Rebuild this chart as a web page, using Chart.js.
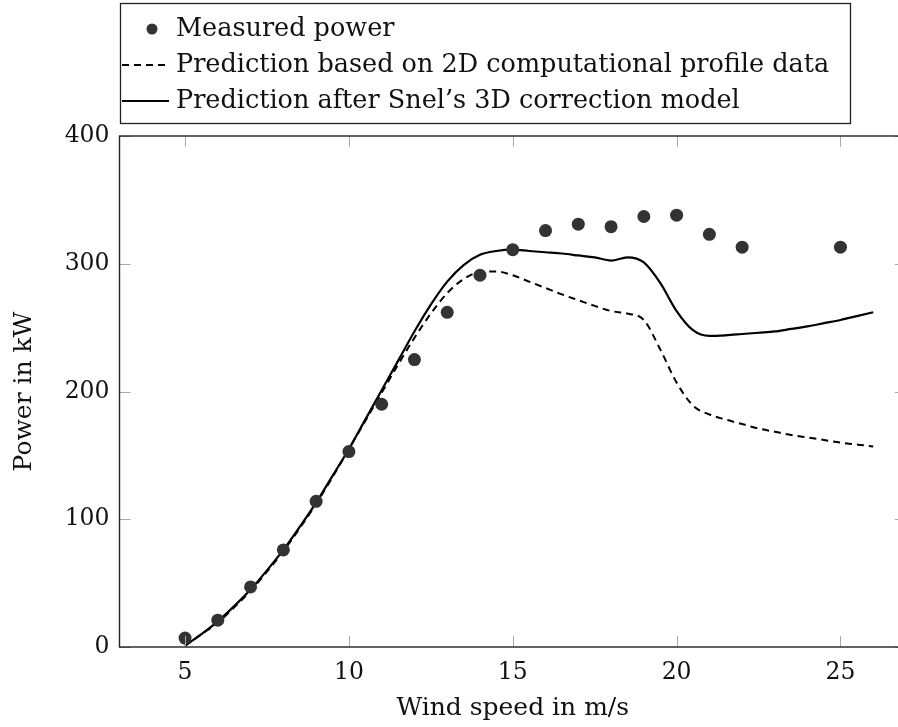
<!DOCTYPE html>
<html>
<head>
<meta charset="utf-8">
<title>Power curve</title>
<script src="https://cdn.jsdelivr.net/npm/chart.js@4/dist/chart.umd.min.js"></script>
<style>
  html, body { margin: 0; padding: 0; background: #fff; overflow: hidden; }
  #wrap { width: 920px; height: 727px; }
</style>
</head>
<body>
<div id="wrap"><canvas id="powerChart"></canvas></div>
<script>
// Measured power per wind speed bin
const measuredSpeed = [5, 6, 7, 8, 9, 10, 11, 12, 13, 14, 15, 16, 17, 18, 19, 20, 21, 22, 25];
const measuredPower = [7, 21, 47, 76, 114, 153, 190, 225, 262, 291, 311, 326, 331, 329, 337, 338, 323, 313, 313];

// Predicted curves, sampled every 0.5 m/s
const predSpeed = [5, 5.5, 6, 6.5, 7, 7.5, 8, 8.5, 9, 9.5, 10, 10.5, 11, 11.5, 12, 12.5, 13, 13.5, 14, 14.5,
                   15, 15.5, 16, 16.5, 17, 17.5, 18, 18.5, 19, 19.5, 20, 20.5, 21, 21.5, 22, 22.5, 23, 23.5,
                   24, 24.5, 25, 25.5, 26];
const pred2D = [1, 10, 19, 31, 44, 59, 75, 93, 112, 133, 155, 177, 199, 221, 242, 261, 277, 288, 293.5, 294,
                291, 286, 281, 276, 271.5, 267, 263, 261, 256, 233, 207, 189, 182, 178, 174.5, 171, 168.5, 166,
                164, 162, 160, 158.5, 157];
const pred3D = [1, 10, 20, 32, 45, 60, 76, 94, 113, 134, 155, 178, 201, 224, 247, 268, 286, 299, 307, 310,
                311, 310, 309, 308, 306.5, 305, 302.5, 305, 301, 285, 263, 248, 243.5, 244, 245, 246, 247, 249,
                251, 253.5, 256, 259, 262];

const xTicks = [5, 10, 15, 20, 25];
const yTicks = [0, 100, 200, 300, 400];

const FONT = "'DejaVu Serif', 'Liberation Serif', serif";

function points(xs, ys) {
    return xs.map((x, i) => ({ x: x, y: ys[i] }));
}

// Frame around the plot with inward ticks on all four sides
const framePlugin = {
    id: 'frame',
    afterDatasetsDraw(chart) {
        const { ctx, chartArea: a, scales } = chart;
        ctx.save();
        ctx.strokeStyle = '#a8a8a8';
        ctx.lineWidth = 1;
        ctx.beginPath();
        xTicks.forEach(v => {
            const px = Math.round(scales.x.getPixelForValue(v)) + 0.5;
            ctx.moveTo(px, a.bottom); ctx.lineTo(px, a.bottom - 11);
            ctx.moveTo(px, a.top); ctx.lineTo(px, a.top + 11);
        });
        yTicks.forEach(v => {
            const py = Math.round(scales.y.getPixelForValue(v)) + 0.5;
            ctx.moveTo(a.left, py); ctx.lineTo(a.left + 11, py);
            ctx.moveTo(a.right, py); ctx.lineTo(a.right - 11, py);
        });
        ctx.stroke();
        ctx.strokeStyle = '#222';
        ctx.lineWidth = 1.4;
        ctx.strokeRect(a.left, a.top, a.right - a.left, a.bottom - a.top);
        ctx.restore();
    }
};

// Boxed legend in the upper left
const legendPlugin = {
    id: 'boxLegend',
    afterDraw(chart) {
        const ctx = chart.ctx;
        const rows = [29, 65, 101];
        ctx.save();
        ctx.fillStyle = '#fff';
        ctx.fillRect(120, 3, 730, 120);
        ctx.strokeStyle = '#222';
        ctx.lineWidth = 1.3;
        ctx.strokeRect(120.5, 3.5, 730, 120);
        chart.data.datasets.forEach((ds, i) => {
            const y = rows[i];
            if (ds.showLine === false) {
                ctx.fillStyle = ds.pointBackgroundColor;
                ctx.beginPath();
                ctx.arc(152, y, 5.5, 0, Math.PI * 2);
                ctx.fill();
            } else {
                ctx.strokeStyle = ds.borderColor;
                ctx.lineWidth = ds.borderWidth;
                ctx.setLineDash(ds.borderDash || []);
                ctx.beginPath();
                ctx.moveTo(122, y);
                ctx.lineTo(169, y);
                ctx.stroke();
                ctx.setLineDash([]);
            }
            ctx.fillStyle = '#111';
            ctx.font = '25.5px ' + FONT;
            ctx.textBaseline = 'middle';
            ctx.textAlign = 'left';
            ctx.fillText(ds.label, 176, y);
        });
        ctx.restore();
    }
};

new Chart(document.getElementById('powerChart'), {
    type: 'line',
    data: {
        datasets: [
            {
                label: 'Measured power',
                data: points(measuredSpeed, measuredPower),
                showLine: false,
                pointRadius: 6.5,
                pointBackgroundColor: '#333',
                pointBorderWidth: 0,
                borderColor: '#333'
            },
            {
                label: 'Prediction based on 2D computational profile data',
                data: points(predSpeed, pred2D),
                borderColor: '#000',
                borderWidth: 2,
                borderDash: [7, 5],
                pointRadius: 0,
                cubicInterpolationMode: 'monotone'
            },
            {
                label: 'Prediction after Snel\u2019s 3D correction model',
                data: points(predSpeed, pred3D),
                borderColor: '#000',
                borderWidth: 2.2,
                pointRadius: 0,
                cubicInterpolationMode: 'monotone'
            }
        ]
    },
    options: {
        responsive: true,
        maintainAspectRatio: false,
        animation: false,
        layout: { padding: { top: 136, right: 14, left: 0, bottom: 0 } },
        plugins: {
            legend: { display: false },
            tooltip: { enabled: false }
        },
        scales: {
            x: {
                type: 'linear',
                min: 3,
                max: 27,
                afterBuildTicks: s => { s.ticks = xTicks.map(v => ({ value: v })); },
                afterFit: s => { s.height = 80; },
                grid: { display: false, drawTicks: false },
                border: { display: false },
                ticks: { color: '#111', font: { family: FONT, size: 23.5 }, padding: 12 },
                title: {
                    display: true,
                    text: 'Wind speed in m/s',
                    color: '#111',
                    font: { family: FONT, size: 25 },
                    padding: { top: 0, bottom: 4 }
                }
            },
            y: {
                type: 'linear',
                min: 0,
                max: 400,
                afterBuildTicks: s => { s.ticks = yTicks.map(v => ({ value: v })); },
                afterFit: s => { s.width = 119.5; },
                grid: { display: false, drawTicks: false },
                border: { display: false },
                ticks: { color: '#111', font: { family: FONT, size: 23.5 }, padding: 10 },
                title: {
                    display: true,
                    text: 'Power in kW',
                    color: '#111',
                    font: { family: FONT, size: 25 },
                    padding: { top: 9, bottom: 0 }
                }
            }
        }
    },
    plugins: [framePlugin, legendPlugin]
});
</script>
</body>
</html>
